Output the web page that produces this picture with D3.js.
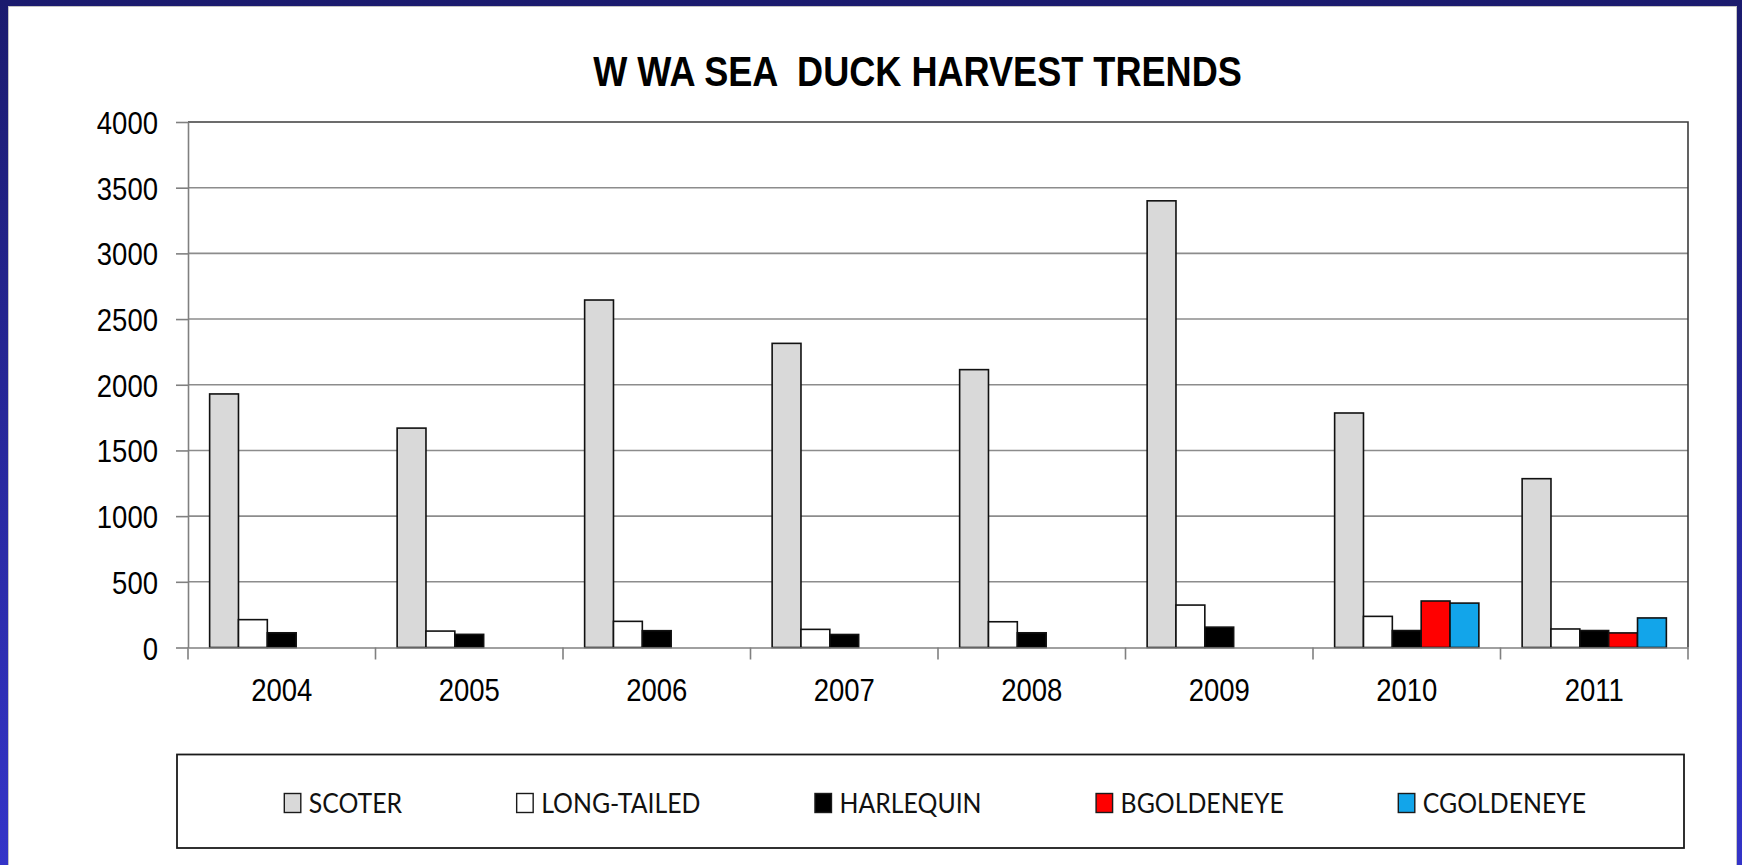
<!DOCTYPE html>
<html>
<head>
<meta charset="utf-8">
<script src="https://cdn.jsdelivr.net/npm/d3@7"></script>
<style>
  html, body { margin: 0; padding: 0; overflow: hidden; }
  svg { display: block; }
</style>
</head>
<body>
<svg id="chart" width="1742" height="865"></svg>
<script>
// values
var years = ["2004", "2005", "2006", "2007", "2008", "2009", "2010", "2011"];
var scoter = [1930, 1670, 2645, 2315, 2115, 3400, 1785, 1285];
var longTailed = [212, 125, 199, 138, 196, 323, 237, 141];
var harlequin = [112, 100, 128, 99, 112, 155, 129, 129];
var bGoldeneye = [null, null, null, null, null, null, 354, 111];
var cGoldeneye = [null, null, null, null, null, null, 338, 225];
var yTicks = [0, 500, 1000, 1500, 2000, 2500, 3000, 3500, 4000];

var series = [
    {name: "SCOTER", values: scoter, color: "#d9d9d9"},
    {name: "LONG-TAILED", values: longTailed, color: "#ffffff"},
    {name: "HARLEQUIN", values: harlequin, color: "#000000"},
    {name: "BGOLDENEYE", values: bGoldeneye, color: "#ff0000"},
    {name: "CGOLDENEYE", values: cGoldeneye, color: "#12a5ea"}
];

var squeeze = 0.86;   // the original text is a bit narrow
var svg = d3.select("#chart");

// blue slide background and white chart panel
var defs = svg.append("defs");
var grad = defs.append("linearGradient").attr("id", "bg")
    .attr("x1", 0).attr("y1", 0).attr("x2", 0).attr("y2", 1);
grad.append("stop").attr("offset", "0%").attr("stop-color", "#1b1b6e");
grad.append("stop").attr("offset", "100%").attr("stop-color", "#3434c8");
svg.append("rect").attr("width", 1742).attr("height", 865).attr("fill", "url(#bg)");
svg.append("rect")
    .attr("x", 8.5).attr("y", 6.5).attr("width", 1728).attr("height", 870)
    .attr("fill", "#ffffff").attr("stroke", "#c4c4c4").attr("stroke-width", 1);

var plotLeft = 188, plotRight = 1688, plotTop = 122, plotBottom = 647.5;

var x = d3.scaleBand().domain(years).range([plotLeft, plotRight]);
var xs = d3.scaleBand().domain(series.map(function(s){ return s.name; }))
    .range([0, x.bandwidth()]).paddingOuter(0.75);
var y = d3.scaleLinear().domain([0, 4000]).range([plotBottom, plotTop]);

// title
svg.append("text")
    .attr("transform", "translate(917.5,86) scale(" + squeeze + ",1)")
    .attr("text-anchor", "middle")
    .style("font-family", "'Liberation Sans', Arial, sans-serif")
    .style("font-weight", "bold")
    .style("font-size", "42px")
    .style("white-space", "pre")
    .text("W WA SEA  DUCK HARVEST TRENDS");

// gridlines
svg.append("g").selectAll("line")
    .data(yTicks.slice(1, -1))
    .join("line")
    .attr("x1", plotLeft).attr("x2", plotRight)
    .attr("y1", function(d){ return y(d); })
    .attr("y2", function(d){ return y(d); })
    .attr("stroke", "#8c8c8c").attr("stroke-width", 1.6);

// plot border, top and right
svg.append("path")
    .attr("d", "M" + plotLeft + "," + plotTop + "H" + plotRight + "V" + plotBottom)
    .attr("fill", "none").attr("stroke", "#3c3c3c").attr("stroke-width", 1.6);

// bars
var groups = svg.append("g").selectAll("g")
    .data(series)
    .join("g")
    .attr("fill", function(s){ return s.color; });

groups.selectAll("rect")
    .data(function(s){
        return years.map(function(yr, i){
            return {year: yr, name: s.name, value: s.values[i]};
        }).filter(function(d){ return d.value != null; });
    })
    .join("rect")
    .attr("x", function(d){ return x(d.year) + xs(d.name); })
    .attr("width", xs.bandwidth())
    .attr("y", function(d){ return y(d.value); })
    .attr("height", function(d){ return y(0) - y(d.value); })
    .attr("stroke", "#111111").attr("stroke-width", 1.6);

// y axis
var yAxis = svg.append("g")
    .attr("transform", "translate(" + plotLeft + ",0)")
    .call(d3.axisLeft(y).tickValues(yTicks).tickFormat(d3.format("d"))
        .tickSize(12).tickSizeOuter(0));
yAxis.select(".domain").attr("stroke", "#808080").attr("stroke-width", 1.6);
yAxis.selectAll(".tick line").attr("stroke", "#808080").attr("stroke-width", 1.6);
yAxis.selectAll(".tick text")
    .attr("x", -30 / squeeze)
    .attr("dy", "0.36em")
    .attr("transform", "scale(" + squeeze + ",1)")
    .style("font-family", "'Liberation Sans', Arial, sans-serif")
    .style("font-size", "32px")
    .attr("fill", "#000");

// x axis: labels at band centres, ticks at band edges
var xAxis = svg.append("g")
    .attr("transform", "translate(0," + plotBottom + ")")
    .call(d3.axisBottom(x).tickSize(0).tickPadding(0).tickSizeOuter(0));
xAxis.select(".domain").attr("stroke", "#808080").attr("stroke-width", 1.6);
xAxis.selectAll(".tick text")
    .attr("y", 54).attr("dy", null)
    .attr("transform", "scale(" + squeeze + ",1)")
    .style("font-family", "'Liberation Sans', Arial, sans-serif")
    .style("font-size", "32px")
    .attr("fill", "#000");

var edges = years.map(function(yr){ return x(yr); }).concat([plotRight]);
xAxis.append("g").selectAll("line")
    .data(edges)
    .join("line")
    .attr("x1", function(d){ return d; }).attr("x2", function(d){ return d; })
    .attr("y1", 0).attr("y2", 12)
    .attr("stroke", "#808080").attr("stroke-width", 1.6);

// legend
svg.append("rect")
    .attr("x", 177).attr("y", 754.5).attr("width", 1507).attr("height", 93.5)
    .attr("fill", "#ffffff").attr("stroke", "#1a1a1a").attr("stroke-width", 1.8);

var legend = svg.append("g");
var items = legend.selectAll("g")
    .data(series)
    .join("g");

items.append("rect")
    .attr("x", 0.5).attr("y", 793.5).attr("width", 16.5).attr("height", 19)
    .attr("fill", function(s){ return s.color; })
    .attr("stroke", "#1a1a1a").attr("stroke-width", 1.4);

items.append("text")
    .attr("transform", "translate(25,813) scale(0.92,1)")
    .style("font-family", "Lato, 'Open Sans', sans-serif")
    .style("font-size", "27px")
    .attr("fill", "#111")
    .text(function(s){ return s.name; });

// lay the entries out in a row, centred in the box
var gap = 114;
var widths = [];
items.each(function(){
    widths.push(25 + d3.select(this).select("text").node().getComputedTextLength() * 0.92);
});
var total = d3.sum(widths) + gap * (widths.length - 1);
var pos = 935 - total / 2;
items.attr("transform", function(s, i){
    var p = pos;
    pos += widths[i] + gap;
    return "translate(" + p + ",0)";
});
</script>
</body>
</html>
